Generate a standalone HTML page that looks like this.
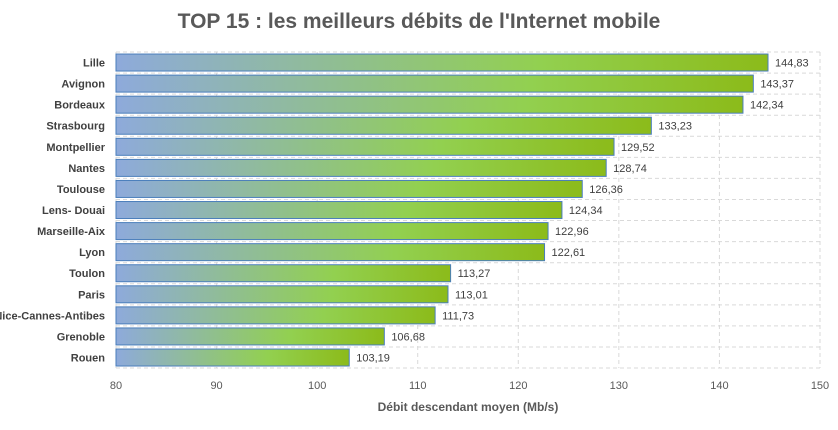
<!DOCTYPE html>
<html><head><meta charset="utf-8"><style>
body{margin:0;background:#fff;}
svg text{font-family:"Liberation Sans",sans-serif;}
</style></head><body>
<svg width="838" height="425" xmlns="http://www.w3.org/2000/svg">
<defs>
<linearGradient id="g" x1="0" x2="1" y1="0" y2="0">
<stop offset="0" stop-color="#8eaadb"/><stop offset="0.65" stop-color="#92d050"/><stop offset="1" stop-color="#8cbb1a"/>
</linearGradient>
</defs>
<text x="419" y="28" text-anchor="middle" font-size="21" font-weight="bold" fill="#595959">TOP 15 : les meilleurs débits de l'Internet mobile</text>
<g id="grid"></g>
<g id="bars"></g>
<g id="xt"></g>
<text x="468" y="411" text-anchor="middle" font-size="12" font-weight="bold" fill="#595959">Débit descendant moyen (Mb/s)</text>
</svg>
<script>
const categories=["Lille","Avignon","Bordeaux","Strasbourg","Montpellier","Nantes","Toulouse","Lens- Douai","Marseille-Aix","Lyon","Toulon","Paris","Nice-Cannes-Antibes","Grenoble","Rouen"];
const values=[144.83,143.37,142.34,133.23,129.52,128.74,126.36,124.34,122.96,122.61,113.27,113.01,111.73,106.68,103.19];
const ticks=[80,90,100,110,120,130,140,150];
const NS="http://www.w3.org/2000/svg";
const x0=116,x1=820,vmin=80,vmax=150,yTop=52,step=21.07;
const X=v=>x0+(v-vmin)/(vmax-vmin)*(x1-x0);
const Y=i=>yTop+i*step;
function mk(t,a,p){const e=document.createElementNS(NS,t);for(const k in a)e.setAttribute(k,a[k]);p.appendChild(e);return e;}
const grid=document.getElementById('grid'),bars=document.getElementById('bars'),xt=document.getElementById('xt');
for(let i=0;i<=categories.length;i++){
 const l=mk('line',{x1:x0,x2:x1,y1:Y(i),y2:Y(i),stroke:'#d9d9d9','stroke-dasharray':'4,3'},grid);
 
 
}
ticks.forEach(t=>{
 const l=mk('line',{x1:X(t),x2:X(t),y1:Y(0),y2:Y(categories.length),stroke:'#d9d9d9','stroke-dasharray':'4,3'},grid);
 
 
 const tx=mk('text',{x:X(t),y:389,'text-anchor':'middle','font-size':11,fill:'#595959'},xt);
 tx.textContent=t;
 
 
});
categories.forEach((c,i)=>{
 const cy=Y(i)+step/2;
 const r=mk('rect',{x:x0,y:cy-8.5,width:X(values[i])-x0,height:17,fill:'url(#g)',stroke:'#4a7ebb','stroke-width':1},bars);
 
 
 const lb=mk('text',{x:105,y:cy+4,'text-anchor':'end','font-size':11,'font-weight':'bold',fill:'#404040'},bars);
 lb.textContent=c;
 
 
 const v=mk('text',{x:X(values[i])+7,y:cy+4,'font-size':11,fill:'#404040'},bars);
 v.textContent=values[i].toFixed(2).replace('.',',');
 
 
});
</script>
</body></html>
